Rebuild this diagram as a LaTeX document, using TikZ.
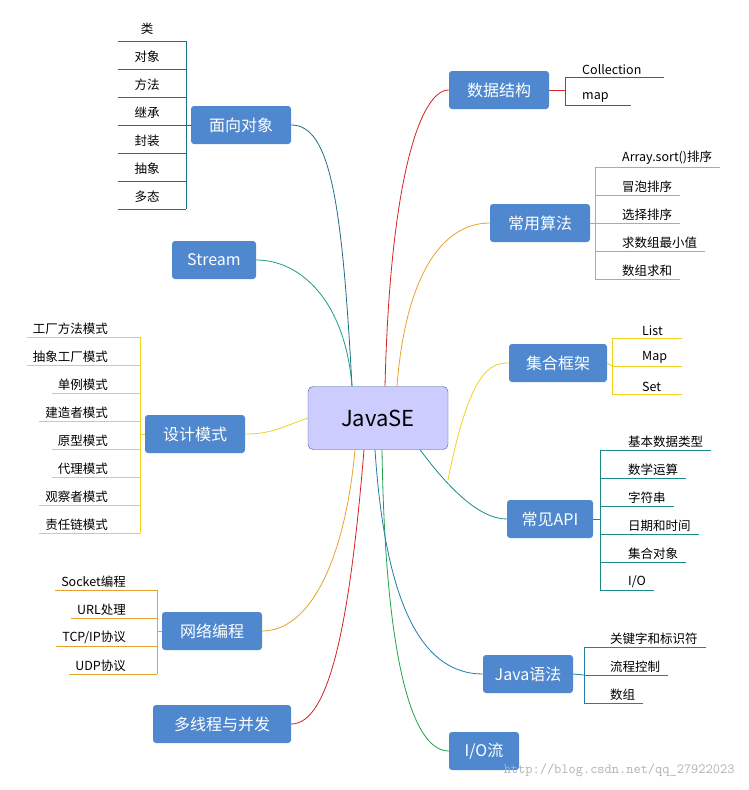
\documentclass[tikz,border=0pt]{standalone}
\usepackage{fontspec}
\setmainfont{Noto Sans CJK SC}
\begin{document}
\begin{tikzpicture}[x=1pt,y=-1pt,
  br/.style={draw=#1,line width=0.8pt},
  bx/.style={fill=boxblue,text=white,rounded corners=3pt,minimum height=38pt,font=\fontsize{16}{18}\selectfont,inner sep=0pt},
  lf/.style={font=\fontsize{12.5}{14}\selectfont,inner sep=2pt}]
\definecolor{boxblue}{HTML}{4F88CE}
\definecolor{cteal}{HTML}{1F6F86}
\definecolor{cgreen}{HTML}{17A08A}
\definecolor{cyel}{HTML}{F2D21E}
\definecolor{corg}{HTML}{E8A22E}
\definecolor{cred}{HTML}{D5231F}
\definecolor{cgr}{HTML}{22A04A}
\definecolor{cblue}{HTML}{1E7FA8}
\definecolor{ctl}{HTML}{1A8A8A}
\useasboundingbox (0,0) rectangle (748,790);
\fill[white] (0,0) rectangle (748,790);
\node[fill=blue!6!cyan!10!white,fill=blue!20!white,draw=boxblue!70!black,rounded corners=5pt,minimum width=140pt,minimum height=63pt,font=\fontsize{22}{24}\selectfont,inner sep=0pt] (J) at (378,418) {JavaSE};
\node[bx,minimum width=100pt] (oo) at (241,125) {面向对象};
\node[bx,minimum width=84pt] (st) at (214,260) {Stream};
\node[bx,minimum width=100pt] (dp) at (195,434) {设计模式};
\node[bx,minimum width=100pt] (net) at (212,631) {网络编程};
\node[bx,minimum width=138pt] (mt) at (222,724) {多线程与并发};
\node[bx,minimum width=70pt] (io) at (484,751) {I/O流};
\node[bx,minimum width=90pt] (jg) at (528,674) {Java语法};
\node[bx,minimum width=86pt] (api) at (550,519) {常见API};
\node[bx,minimum width=98pt] (col) at (558,363) {集合框架};
\node[bx,minimum width=100pt] (alg) at (540,223) {常用算法};
\node[bx,minimum width=100pt] (ds) at (499,90) {数据结构};
% connectors
\coordinate (s1) at (352,386);
\draw[br=cteal] (J.north -| s1) .. controls (342,200) and (330,125) .. (oo.east);
\draw[br=cgreen] ([xshift=-26pt]J.north) .. controls (345,300) and (300,260) .. (st.east);
\draw[br=cyel] (J.west) .. controls (280,428) and (270,434) .. (dp.east);
\draw[br=corg] ([xshift=-23pt]J.south) .. controls (345,560) and (310,631) .. (net.east);
\draw[br=cred] ([xshift=-14pt]J.south) .. controls (350,620) and (330,724) .. (mt.east);
\draw[br=cgr] ([xshift=4pt]J.south) .. controls (385,650) and (410,751) .. (io.west);
\draw[br=cblue] ([xshift=-3pt]J.south) .. controls (385,600) and (420,674) .. (jg.west);
\draw[br=ctl] ([xshift=42pt]J.south) .. controls (450,490) and (480,519) .. (api.west);
\draw[br=cyel] ([xshift=70pt,yshift=-30pt]J.south) .. controls (470,370) and (490,363) .. (col.west);
\draw[br=corg] ([xshift=19pt]J.north) .. controls (405,280) and (440,223) .. (alg.west);
\draw[br=cred] ([xshift=7pt]J.north) .. controls (390,180) and (420,90) .. (ds.west);
% left groups
\foreach \t [count=\i] in {类,对象,方法,继承,封装,抽象,多态}
  {\node[lf] (oo\i) at (147,{41+28*(\i-1)-12}) {\t};
   \draw[br=cteal] (118,{41+28*(\i-1)}) -- (186,{41+28*(\i-1)});}
\draw[br=cteal] (186,41) -- (186,209); \draw[br=cteal] (oo.west) -- (186,125);
\foreach \t [count=\i] in {工厂方法模式,抽象工厂模式,单例模式,建造者模式,原型模式,代理模式,观察者模式,责任链模式}
  {\node[lf,anchor=south east] (dp\i) at (110,{337+28*(\i-1)}) {\t};
   \draw[br=cyel] (dp\i.south west) ++(-4,0) -- (140,{337+28*(\i-1)});}
\draw[br=cyel] (140,337) -- (140,533); \draw[br=cyel] (dp.west) -- (140,434);
\foreach \t [count=\i] in {Socket编程,URL处理,TCP/IP协议,UDP协议}
  {\node[lf,anchor=south east] (nt\i) at (128,{590+28*(\i-1)}) {\t};
   \draw[br=corg] (nt\i.south west) ++(-4,0) -- (157,{590+28*(\i-1)});}
\draw[br=corg] (157,590) -- (157,674); \draw[br=corg] (net.west) -- (157,631);
% right groups
\foreach \t [count=\i] in {Collection,map}
  {\node[lf,anchor=south west] (ds\i) at (580,{77+28*(\i-1)}) {\t};
   \draw[br=cred] (565,{77+28*(\i-1)}) -- ([xshift=20pt]ds\i.south east);}
\draw[br=cred] (565,77) -- (565,105); \draw[br=cred] (ds.east) -- (565,90);
\foreach \t [count=\i] in {Array.sort()排序,冒泡排序,选择排序,求数组最小值,数组求和}
  {\node[lf,anchor=south west] (al\i) at (620,{167+28*(\i-1)}) {\t};
   \draw[br=corg] (595,{167+28*(\i-1)}) -- ([xshift=6pt]al\i.south east);}
\draw[br=corg] (595,167) -- (595,279); \draw[br=corg] (alg.east) -- (595,223);
\foreach \t [count=\i] in {List,Map,Set}
  {\node[lf,anchor=south west] (cl\i) at (640,{338+28*(\i-1)}) {\t};
   \draw[br=cyel] (612,{338+28*(\i-1)}) -- (682,{338+28*(\i-1)});}
\draw[br=cyel] (612,338) -- (612,394); \draw[br=cyel] (col.east) -- (612,366);
\foreach \t [count=\i] in {基本数据类型,数学运算,字符串,日期和时间,集合对象,I/O}
  {\node[lf,anchor=south west] (ap\i) at (626,{450+28*(\i-1)}) {\t};
   \draw[br=ctl] (600,{450+28*(\i-1)}) -- ([xshift=6pt]ap\i.south east);}
\draw[br=ctl] (600,450) -- (600,590); \draw[br=ctl] (api.east) -- (600,519);
\foreach \t [count=\i] in {关键字和标识符,流程控制,数组}
  {\node[lf,anchor=south west] (jg\i) at (608,{647+28*(\i-1)}) {\t};
   \draw[br=cblue] (584,{647+28*(\i-1)}) -- ([xshift=6pt]jg\i.south east);}
\draw[br=cblue] (584,647) -- (584,703); \draw[br=cblue] (jg.east) -- (584,675);
\node[text=gray!60,font=\ttfamily\fontsize{14}{16}\selectfont,anchor=east] (wm) at (738,770) {http://blog.csdn.net/qq\_27922023};
\end{tikzpicture}
\end{document}
